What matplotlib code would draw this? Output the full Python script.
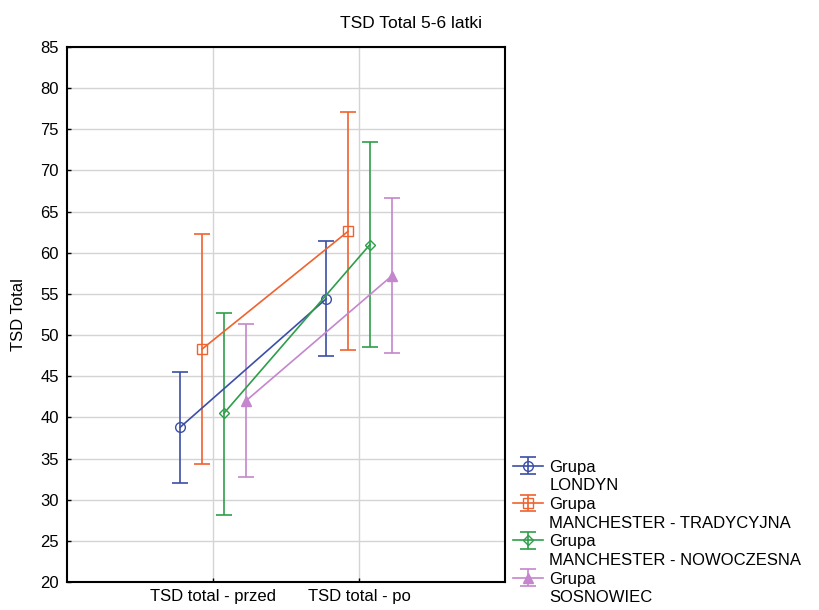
import matplotlib
matplotlib.use('Agg')
import matplotlib.pyplot as plt
from matplotlib.lines import Line2D
import numpy as np

plt.rcParams['font.family'] = ['Liberation Sans', 'DejaVu Sans']

# ==============================================================================
#  DATA
# ==============================================================================

PHASES = ['TSD total - przed', 'TSD total - po']
GROUPS = ['LONDYN', 'MANCHESTER - TRADYCYJNA', 'MANCHESTER - NOWOCZESNA', 'SOSNOWIEC']

londyn_mean = [38.8, 54.4]
londyn_low  = [32.0, 47.5]
londyn_high = [45.5, 61.4]

trad_mean = [48.3, 62.6]
trad_low  = [34.3, 48.2]
trad_high = [62.3, 77.1]

nowo_mean = [40.5, 61.0]
nowo_low  = [28.2, 48.5]
nowo_high = [52.7, 73.5]

sosn_mean = [42.0, 57.2]
sosn_low  = [32.8, 47.8]
sosn_high = [51.3, 66.7]

SERIES = [
    (londyn_mean, londyn_low, londyn_high, '#3c4fa6', 'o', 'none'),
    (trad_mean,   trad_low,   trad_high,   '#f0622e', 's', 'none'),
    (nowo_mean,   nowo_low,   nowo_high,   '#2e9e4a', 'D', 'none'),
    (sosn_mean,   sosn_low,   sosn_high,   '#c486cc', '^', None),
]
OFFSETS = [-0.225, -0.075, 0.075, 0.225]

# ==============================================================================
#  PLOT
# ==============================================================================

fig = plt.figure(figsize=(8.19, 6.10), dpi=100)
ax = fig.add_axes([0.0818, 0.0459, 0.5348, 0.877])

x = np.arange(1, len(PHASES) + 1)
handles, labels = [], []
for (mean, low, high, col, mk, mfc), off, grp in zip(SERIES, OFFSETS, GROUPS):
    mean, low, high = map(np.array, (mean, low, high))
    eb = ax.errorbar(x + off, mean, yerr=[mean - low, high - mean], color=col,
                     marker=mk, markersize=7 if mk != 'D' else 5,
                     markerfacecolor=mfc if mfc else col, markeredgecolor=col,
                     linewidth=1.2, elinewidth=1.2, capsize=6, capthick=1.2)
    # two-line legend entry: handle next to "Grupa", group name underneath
    handles += [eb, Line2D([], [], linestyle='none')]
    labels += ['Grupa', grp]

ax.set_xlim(0, 3)
ax.set_ylim(20, 85)
ax.set_xticks(x)
ax.set_xticklabels(PHASES, fontsize=12)
ax.set_yticks(np.arange(20, 86, 5))
ax.tick_params(axis='both', direction='in', length=3, labelsize=12, width=1)
ax.tick_params(axis='x', pad=5)
ax.tick_params(axis='y', pad=6)
ax.grid(True, color='#d4d4d4', linewidth=1)
ax.set_axisbelow(True)
for s in ax.spines.values():
    s.set_linewidth(1.5)

ax.set_ylabel('TSD Total', fontsize=12, labelpad=10)
fig.text(0.502, 0.962, 'TSD Total 5-6 latki', ha='center', va='center', fontsize=12.5)

ax.legend(handles, labels, loc='lower left', bbox_to_anchor=(0.995, -0.062),
          frameon=False, fontsize=12, handlelength=1.8, handletextpad=0.4,
          labelspacing=0.22, borderaxespad=0.2)

fig.savefig('out.png', dpi=100)
